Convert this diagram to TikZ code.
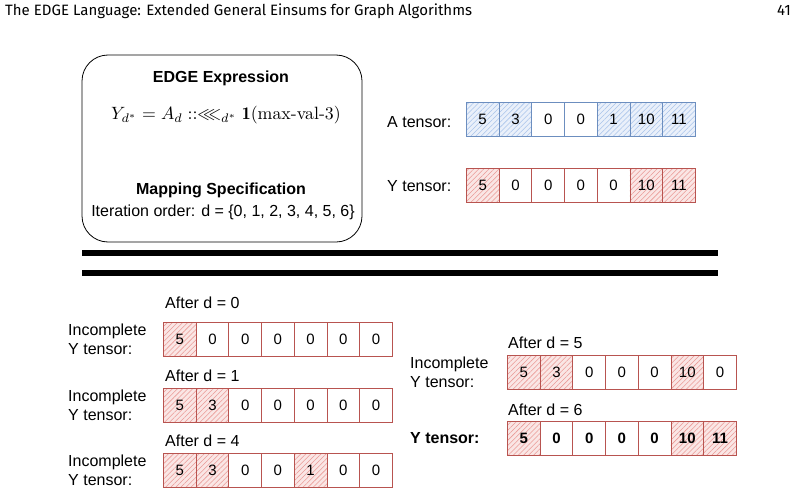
\documentclass[tikz,border=0pt]{standalone}
\usepackage{amsmath,amssymb}
\usepackage{fontspec}
\newfontfamily\hv{Liberation Sans}
\newfontfamily\hdr{Fira Sans}
\usetikzlibrary{patterns.meta}
\definecolor{bstroke}{HTML}{6C8EBF}
\definecolor{bhatch}{HTML}{A9C4EB}
\definecolor{rstroke}{HTML}{B85450}
\definecolor{rhatch}{HTML}{EA9A96}
\tikzset{
  lbl/.style={font=\hv\fontsize{16}{19}\selectfont, inner sep=0pt},
  cell/.style={draw, minimum width=32.7pt, minimum height=34pt, anchor=north west, inner sep=0pt,
     font=\hv\fontsize{15}{15}\selectfont, line width=0.9pt},
  bw/.style={cell, draw=bstroke},
  bh/.style={cell, draw=bstroke, preaction={fill=bhatch!25}, pattern={Lines[angle=45,distance=3.6pt,line width=0.55pt]}, pattern color=bhatch},
  rw/.style={cell, draw=rstroke},
  rh/.style={cell, draw=rstroke, preaction={fill=rhatch!25}, pattern={Lines[angle=45,distance=3.6pt,line width=0.55pt]}, pattern color=rhatch},
  sep/.style={line width=6pt},
}
\newcommand{\tensorrow}[5]{%
  \foreach \v/\s [count=\i] in {#4} {
    \node[\s] (#1-\i) at ({#2+(\i-1)*32.7}, #3) {#5\v};
  }}
\begin{document}
\begin{tikzpicture}[x=1pt,y=-1pt]
\useasboundingbox (0,0) rectangle (800,495);
% header
\node[anchor=base west, inner sep=0pt, font=\hdr\fontsize{15}{15}\selectfont] (title) at (5,16) {The EDGE Language: Extended General Einsums for Graph Algorithms};
\node[anchor=base east, inner sep=0pt, font=\hdr\fontsize{15}{15}\selectfont] (pnum) at (791,16) {41};
% expression box
\node[draw, line width=0.8pt, rounded corners=26pt, minimum width=280pt, minimum height=187pt, inner sep=0pt] (box) at (222,148.5) {};
\node[lbl, font=\hv\bfseries\fontsize{16}{19}\selectfont] (t1) at (221,78) {EDGE Expression};
\node[inner sep=0pt] (expr) at (226,115) {\scalebox{1.78}{$Y_{d^*} = A_d \mathrel{::}\lll_{d^*} \mathbf{1}(\text{max-val-3})$}};
\node[lbl, font=\hv\bfseries\fontsize{16}{19}\selectfont] (t2) at (221,190) {Mapping Specification};
\node[lbl] (t3) at (223,212) {Iteration order: d = \{0, 1, 2, 3, 4, 5, 6\}};
% top tensors
\node[lbl, anchor=west] (alab) at (387,122) {A tensor:};
\tensorrow{A}{466}{102}{5/bh,3/bh,0/bw,0/bw,1/bh,10/bh,11/bh}{}
\node[lbl, anchor=west] (ylab) at (387,186) {Y tensor:};
\tensorrow{Y}{466}{168}{5/rh,0/rw,0/rw,0/rw,0/rw,10/rh,11/rh}{}
% separators
\coordinate (s1a) at (82,253); \coordinate (s1b) at (718,253);
\coordinate (s2a) at (82,273); \coordinate (s2b) at (718,273);
\draw[sep] (s1a) -- (s1b);
\draw[sep] (s2a) -- (s2b);
% lower left
\node[lbl, anchor=west] (a0) at (165,303) {After d = 0};
\node[lbl, anchor=west, align=left] (i0) at (68,339) {Incomplete\\Y tensor:};
\tensorrow{P}{163}{322}{5/rh,0/rw,0/rw,0/rw,0/rw,0/rw,0/rw}{}
\node[lbl, anchor=west] (a1) at (165,376) {After d = 1};
\node[lbl, anchor=west, align=left] (i1) at (68,405) {Incomplete\\Y tensor:};
\tensorrow{Q}{163}{388}{5/rh,3/rh,0/rw,0/rw,0/rw,0/rw,0/rw}{}
\node[lbl, anchor=west] (a4) at (165,441) {After d = 4};
\node[lbl, anchor=west, align=left] (i4) at (68,470) {Incomplete\\Y tensor:};
\tensorrow{R}{163}{453}{5/rh,3/rh,0/rw,0/rw,1/rh,0/rw,0/rw}{}
% lower right
\node[lbl, anchor=west] (a5) at (508,343) {After d = 5};
\node[lbl, anchor=west, align=left] (i5) at (410,372) {Incomplete\\Y tensor:};
\tensorrow{S}{507}{355}{5/rh,3/rh,0/rw,0/rw,0/rw,10/rh,0/rw}{}
\node[lbl, anchor=west] (a6) at (508,410) {After d = 6};
\node[lbl, anchor=west, font=\hv\bfseries\fontsize{16}{19}\selectfont] (yf) at (410,438) {Y tensor:};
\tensorrow{F}{507}{421}{5/rh,0/rw,0/rw,0/rw,0/rw,10/rh,11/rh}{\bfseries}
\end{tikzpicture}
\end{document}
